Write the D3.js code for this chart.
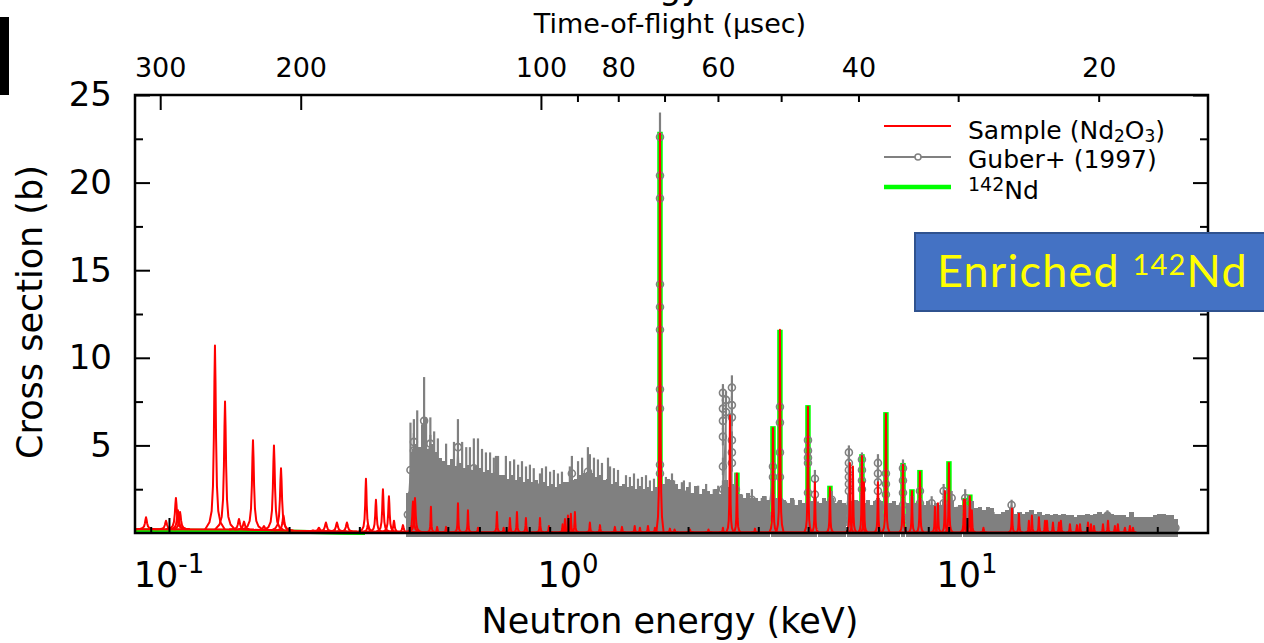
<!DOCTYPE html>
<html>
<head>
<meta charset="utf-8">
<script src="https://cdn.jsdelivr.net/npm/d3@7"></script>
<style>
  body { margin: 0; background: white; }
  svg { display: block; font-family: "DejaVu Sans", sans-serif; }
</style>
</head>
<body>
<div id="chart"></div>
<script>
// ---- values (energies in keV, cross sections in b) ----

// Sample (Nd2O3): smooth background and resonance peaks
var sampleBaseE  = [0.0822, 0.15, 0.2, 0.28, 0.4, 26.5];
var sampleBaseXS = [0.22, 0.2, 0.13, 0.08, 0.05, 0.03];
var samplePeakE  = [0.0876, 0.0983, 0.1041, 0.1053, 0.1066, 0.1304, 0.1382, 0.1498, 0.1542, 0.1624,
                    0.1730, 0.1833, 0.1909, 0.1936, 0.2296, 0.2376, 0.2474, 0.2636, 0.2793, 0.3117,
                    0.3153, 0.3302, 0.3438, 0.3559, 0.3664, 0.3859, 0.4089, 0.4136, 0.4535, 0.470,
                    0.495, 0.5301, 0.5615, 0.595, 0.6638, 0.690, 0.7155, 0.7451, 0.7846, 0.851,
                    0.896, 0.970, 0.983, 1.000, 1.017, 1.041, 1.135, 1.203, 1.311, 1.366,
                    1.47, 1.515, 1.587, 1.652, 1.701, 1.801, 1.85, 2.022, 2.25, 2.446,
                    2.547, 2.652, 2.943, 3.265, 3.399, 3.996, 4.159, 4.536, 5.090, 5.179,
                    5.456, 5.519, 5.984, 6.266, 6.914, 7.282, 7.625, 8.315, 8.460, 8.809,
                    9.014, 9.829, 9.886, 10.17, 10.29, 11.0, 12.97, 13.50, 14.30, 14.55,
                    15.15, 15.69, 15.87, 16.43, 17.01, 17.20, 18.12, 18.87, 19.20, 20.11,
                    20.46, 20.82, 21.93, 22.57, 23.49, 23.89, 24.89, 25.62, 26.07];
var samplePeakXS = [0.9, 0.7, 2.0, 1.3, 1.2, 10.7, 7.5, 0.8, 0.65, 5.3,
                    0.4, 5.0, 3.7, 1.0, 0.15, 0.3, 0.6, 0.6, 0.6, 3.1,
                    0.5, 1.9, 2.5, 2.1, 0.7, 0.45, 1.8, 2.0, 1.5, 0.35,
                    0.35, 1.7, 1.3, 0.3, 1.2, 0.3, 0.85, 1.2, 0.85, 0.85,
                    0.4, 0.5, 0.8, 1.0, 1.1, 1.2, 0.6, 0.45, 0.35, 0.35,
                    0.4, 0.3, 0.4, 0.3, 22.8, 0.25, 0.2, 0.2, 0.2, 0.3,
                    6.7, 3.4, 0.25, 6.0, 11.6, 7.2, 2.9, 2.6, 4.0, 3.8,
                    4.4, 2.9, 2.9, 6.8, 3.9, 2.4, 3.5, 1.5, 1.7, 2.4,
                    4.0, 1.9, 1.9, 2.1, 1.3, 0.3, 1.4, 1.1, 0.7, 1.0,
                    0.9, 0.7, 0.7, 0.6, 0.6, 0.7, 0.5, 0.45, 0.5, 0.6,
                    0.5, 0.4, 0.5, 0.7, 0.4, 0.5, 0.3, 0.4, 0.3];

// 142Nd evaluation: smooth part and resonances
var nd142BaseE  = [0.0822, 0.15, 0.2, 0.27, 0.31];
var nd142BaseXS = [0.15, 0.12, 0.08, 0.02, 0.0];
var nd142PeakE  = [1.701, 2.652, 3.265, 3.399, 3.996, 4.536, 5.456, 6.266, 6.914, 7.282, 7.625, 9.014, 9.886, 10.17, 19.3];
var nd142PeakXS = [22.9, 3.45, 6.1, 11.6, 7.3, 2.7, 4.5, 6.9, 4.0, 2.5, 3.6, 4.1, 2.0, 2.2, 0.9];

// Guber+ (1997): [energy, cross section, error]
var guberData = [
  // 0.40 - 0.48 keV
  [0.397,1.05,1.25],[0.403,3.6,2.7],[0.406,2.2,2.4],[0.411,5.2,1.3],[0.411,4.7,1.0],[0.411,2.3,2.5],
  [0.416,2.45,2.65],[0.419,4.5,2.5],[0.426,2.35,2.55],[0.431,4.4,1.8],[0.436,6.4,2.5],[0.436,2.4,2.6],
  [0.441,4.4,2.2],[0.446,2.3,2.5],[0.452,5.1,1.5],[0.452,4.6,1.0],[0.456,2.45,2.65],[0.462,4.2,1.6],
  [0.467,2.2,2.4],[0.472,4.0,1.4],[0.478,2.05,2.25],
  // 0.49 - 0.68 keV
  [0.489,1.95,2.15],[0.495,3.5,1.6],[0.500,1.85,2.05],[0.512,2.0,2.2],[0.518,3.5,1.7],[0.524,1.8,2.0],
  [0.530,4.9,1.6],[0.536,1.9,2.1],[0.543,3.4,1.8],[0.549,1.75,1.95],[0.556,3.4,1.5],[0.562,1.85,2.05],
  [0.568,3.3,1.6],[0.575,1.7,1.9],[0.581,3.7,1.7],[0.588,1.8,2.0],[0.595,3.2,2.2],[0.602,1.75,1.95],
  [0.609,3.2,1.6],[0.616,1.65,1.85],[0.623,3.1,1.5],[0.630,1.7,1.9],[0.638,3.0,1.6],[0.645,1.6,1.8],
  [0.652,2.9,1.4],[0.660,3.1,1.3],[0.660,1.65,1.85],[0.668,2.9,1.5],[0.675,1.55,1.75],
  // 0.69 - 0.98 keV
  [0.691,1.55,1.75],[0.699,2.8,1.6],[0.707,1.45,1.65],[0.716,2.7,1.4],[0.724,1.55,1.75],[0.733,2.7,1.5],
  [0.741,1.4,1.6],[0.750,2.6,1.3],[0.758,1.5,1.7],[0.767,2.6,1.5],[0.776,1.35,1.55],[0.785,2.5,1.3],
  [0.794,1.45,1.65],[0.803,2.5,1.4],[0.812,1.35,1.55],[0.821,2.4,1.3],[0.831,1.4,1.6],[0.851,2.6,0.8],
  [0.851,1.3,1.5],[0.861,2.4,1.3],[0.871,1.35,1.55],[0.881,2.4,1.4],[0.891,1.25,1.45],[0.902,2.3,1.2],
  [0.912,1.3,1.5],[0.922,2.3,1.3],[0.933,1.2,1.4],[0.944,2.2,1.2],[0.955,1.3,1.5],[0.966,2.2,1.3],
  [0.977,1.35,1.55],
  // 1.0 - 1.35 keV
  [1.000,1.35,1.55],[1.011,2.5,1.3],[1.023,3.4,1.0],[1.023,1.4,1.6],[1.047,1.45,1.65],[1.060,2.6,1.5],
  [1.072,1.55,1.75],[1.085,2.8,1.5],[1.097,1.6,1.8],[1.122,3.5,1.4],[1.122,1.65,1.85],[1.135,2.9,1.6],
  [1.149,1.6,1.8],[1.162,2.8,1.5],[1.175,1.5,1.7],[1.189,2.7,1.5],[1.203,1.55,1.75],[1.217,2.6,1.4],
  [1.231,1.4,1.6],[1.260,2.6,1.7],[1.260,1.45,1.65],[1.275,2.4,1.4],[1.289,1.3,1.5],[1.304,2.4,1.3],
  [1.319,1.35,1.55],[1.335,2.3,1.3],[1.350,1.25,1.45],
  // 1.38 - 1.66 keV
  [1.382,1.3,1.5],[1.398,2.1,1.2],[1.414,1.2,1.4],[1.430,2.1,1.1],[1.447,1.25,1.45],[1.464,2.1,1.3],
  [1.481,1.15,1.35],[1.498,2.0,1.1],[1.515,1.25,1.45],[1.533,2.0,1.2],[1.551,1.15,1.35],[1.569,2.0,1.3],
  [1.587,1.2,1.4],[1.605,1.9,1.1],[1.624,1.1,1.3],[1.643,1.9,1.2],[1.662,1.2,1.4],
  // 1.70 keV resonance
  [1.701,3.4,0.5],[1.701,3.9,0.5],[1.701,7.1,0.6],[1.701,8.2,0.6],[1.701,11.6,0.6],[1.701,12.9,0.8],
  [1.701,14.2,0.8],[1.701,19.1,1.0],[1.701,20.4,1.0],[1.701,22.6,1.4],[1.701,1.4,1.6],
  // 1.74 - 2.40 keV
  [1.740,1.3,1.5],[1.760,1.9,1.3],[1.781,1.45,1.65],[1.823,2.6,0.8],[1.823,1.4,1.6],[1.845,1.8,1.2],
  [1.865,1.3,1.5],[1.909,1.15,1.35],[1.930,1.7,1.2],[1.953,2.2,0.8],[1.953,1.1,1.3],[1.999,1.2,1.4],
  [2.020,1.7,1.2],[2.045,1.05,1.25],[2.093,1.25,1.45],[2.120,1.6,1.1],[2.142,1.0,1.2],[2.192,1.15,1.35],
  [2.220,1.6,1.2],[2.243,1.1,1.3],[2.295,1.0,1.2],[2.320,1.5,1.0],[2.349,1.15,1.35],[2.380,1.6,1.1],
  [2.404,1.0,1.2],
  // 2.45 - 2.64 keV resonance cluster
  [2.446,2.5,0.5],[2.446,3.8,0.5],[2.446,5.5,0.5],[2.446,6.4,0.5],[2.446,7.1,0.5],[2.446,8.0,0.5],[2.446,1.2,1.4],
  [2.489,6.9,0.4],[2.489,7.6,0.5],[2.489,1.4,1.6],[2.530,1.2,1.4],
  [2.576,4.0,0.5],[2.576,4.6,0.5],[2.576,5.3,0.5],[2.576,6.6,0.5],[2.576,7.3,0.5],[2.576,8.3,0.7],[2.576,1.3,1.5],
  [2.636,2.5,0.9],[2.636,1.2,1.4],
  // 2.7 - 10 keV
  [2.698,1.0,1.2],[2.730,1.3,0.9],[2.760,0.9,1.1],[2.825,1.05,1.25],[2.860,1.2,0.8],[2.891,1.9,0.6],
  [2.891,0.9,1.1],[2.958,0.9,1.1],[3.027,0.8,1.0],[3.060,1.2,0.8],[3.098,0.95,1.15],[3.130,1.2,0.9],
  [3.170,0.85,1.05],[3.265,3.2,0.5],[3.265,3.8,0.5],[3.265,1.0,1.2],[3.320,0.9,1.1],
  [3.399,1.8,0.5],[3.399,3.2,0.5],[3.399,4.6,0.5],[3.399,6.3,0.5],[3.399,7.2,0.5],[3.399,0.9,1.1],
  [3.476,0.85,1.05],[3.520,1.1,0.7],[3.557,0.75,0.95],[3.640,0.9,1.1],[3.680,1.1,0.8],[3.725,0.7,0.9],
  [3.812,0.85,1.05],[3.860,1.0,0.7],[3.901,0.75,0.95],
  [3.996,2.3,0.5],[3.996,4.0,0.4],[3.996,4.3,0.4],[3.996,4.7,0.4],[3.996,5.3,0.5],[3.996,0.9,1.1],
  [4.085,0.8,1.0],[4.159,2.2,0.4],[4.159,3.1,0.5],[4.159,0.9,1.1],[4.230,1.0,0.8],[4.278,0.75,0.95],
  [4.377,0.9,1.1],[4.430,1.0,0.7],[4.480,0.8,1.0],[4.584,1.9,0.5],[4.584,0.9,1.1],[4.691,0.75,0.95],
  [4.750,1.0,0.8],[4.800,0.85,1.05],[4.912,0.75,0.95],[4.970,1.0,0.6],
  [5.060,2.4,0.4],[5.060,2.8,0.4],[5.060,3.2,0.4],[5.060,3.6,0.4],[5.060,4.0,0.4],[5.060,4.6,0.4],[5.060,1.0,1.2],
  [5.144,0.8,1.0],[5.200,1.0,0.7],[5.264,0.85,1.05],[5.360,0.8,1.0],
  [5.456,2.5,0.4],[5.456,3.0,0.4],[5.456,3.6,0.4],[5.456,4.2,0.4],[5.456,1.0,1.2],
  [5.560,0.75,0.95],[5.641,0.85,1.05],[5.700,1.0,0.6],[5.773,0.7,0.9],[5.880,0.8,1.0],
  [5.984,1.7,0.4],[5.984,2.4,0.4],[5.984,2.9,0.4],[5.984,3.4,0.4],[5.984,4.0,0.5],[5.984,0.9,1.1],
  [6.050,1.0,0.6],[6.100,0.8,1.0],[6.266,2.2,0.4],[6.266,2.8,0.4],[6.266,3.4,0.5],[6.266,0.9,1.1],
  [6.400,0.75,0.95],[6.470,1.0,0.7],[6.550,0.8,1.0],[6.700,0.7,0.9],[6.800,0.9,0.6],
  [6.914,1.6,0.4],[6.914,2.3,0.4],[6.914,3.0,0.4],[6.914,3.7,0.5],[6.914,0.9,1.1],
  [7.104,0.75,0.95],[7.200,1.0,0.7],[7.282,0.95,1.15],[7.440,0.75,0.95],[7.520,0.9,0.6],
  [7.625,1.7,0.4],[7.625,2.4,0.5],[7.625,0.9,1.1],[7.791,0.7,0.9],[7.973,0.8,1.0],[8.050,0.9,0.7],
  [8.159,1.7,0.4],[8.159,0.7,0.9],[8.349,0.75,0.95],[8.450,0.9,0.6],[8.544,0.7,0.9],
  [8.743,1.7,0.4],[8.743,2.4,0.4],[8.743,0.8,1.0],[8.850,0.9,0.7],[8.947,0.7,0.9],[9.156,2.0,0.4],
  [9.156,0.8,1.0],[9.369,0.65,0.85],[9.470,0.9,0.6],[9.588,0.7,0.9],[9.900,1.4,0.4],[9.900,2.0,0.5],
  [9.900,0.7,0.9],
  // 10 - 33 keV
  [10.04,0.65,0.85],[10.15,0.8,0.6],[10.27,0.8,1.0],[10.51,0.6,0.8],[10.63,0.8,0.5],[10.76,0.65,0.85],
  [11.01,0.55,0.75],[11.14,0.7,0.5],[11.27,0.65,0.85],[11.53,0.6,0.8],[11.66,0.7,0.5],[11.80,0.45,0.65],
  [12.07,0.45,0.65],[12.35,0.5,0.7],[12.64,0.55,0.75],[12.94,1.6,0.3],[12.94,0.6,0.8],[13.24,0.45,0.65],
  [13.55,0.5,0.7],[13.86,0.45,0.65],[14.19,0.5,0.7],[14.52,0.55,0.75],[14.86,0.45,0.65],[15.20,0.5,0.7],
  [15.56,0.4,0.6],[15.92,0.45,0.65],[16.29,0.4,0.6],[16.67,0.45,0.65],[17.06,0.4,0.6],[17.46,0.45,0.65],
  [17.87,0.4,0.6],[18.28,0.4,0.6],[18.71,0.35,0.55],[19.15,0.4,0.6],[19.59,0.4,0.6],[20.05,0.45,0.65],
  [20.52,0.4,0.6],[21.00,0.45,0.65],[21.49,0.5,0.7],[21.99,0.45,0.65],[22.50,1.0,0.3],[22.50,0.5,0.7],
  [23.03,0.45,0.65],[23.56,0.4,0.6],[24.11,0.4,0.6],[24.68,0.4,0.6],[25.25,0.35,0.55],[25.84,0.5,0.7],
  [26.45,0.35,0.55],[27.06,0.35,0.55],[27.70,0.35,0.55],[28.34,0.35,0.55],[29.00,0.35,0.55],[29.68,0.4,0.6],
  [30.38,0.45,0.65],[31.08,0.45,0.65],[31.81,0.4,0.6],[32.55,0.4,0.6],[33.31,0.3,0.5]
];

// axes
var energyRange   = [0.0822, 40.2];
var energyMajor   = [0.1, 1, 10];
var energyLabels  = ["-1", "0", "1"];
var energyMinor   = [0.09, 0.2, 0.3, 0.4, 0.5, 0.6, 0.7, 0.8, 0.9, 2, 3, 4, 5, 6, 7, 8, 9, 20, 30];
var xsMajor       = [5, 10, 15, 20, 25];
var xsMinor       = [2.5, 7.5, 12.5, 17.5, 22.5];
var tofConst      = 92.5;   // usec * sqrt(keV), flight path conversion
var tofMajor      = [300, 200, 100];
var tofMinor      = [90, 80, 70, 60, 50, 40, 30, 20];
var tofMinorLabel = [80, 60, 40, 20];

// ---- drawing ----
var W = 1264, H = 643;
var plot = {left: 135, right: 1208, top: 95, bottom: 533};

var svg = d3.select("#chart").append("svg")
    .attr("width", W)
    .attr("height", H)
    .style("background-color", "white");

var x = d3.scaleLog().domain(energyRange).range([plot.left, plot.right]);
var y = d3.scaleLinear().domain([0, 25]).range([plot.bottom, plot.top]);
var xt = d3.scaleLog()
    .domain([tofConst / Math.sqrt(energyRange[0]), tofConst / Math.sqrt(energyRange[1])])
    .range([plot.left, plot.right]);

svg.append("clipPath").attr("id", "clip")
  .append("rect")
    .attr("x", plot.left).attr("y", plot.top)
    .attr("width", plot.right - plot.left).attr("height", plot.bottom - plot.top + 6);

var data = svg.append("g").attr("clip-path", "url(#clip)");
var line = d3.line().x(function(d) { return x(d[0]); }).y(function(d) { return y(d[1]); });

// 142Nd (green, drawn first)
data.append("path")
    .datum(d3.zip(nd142BaseE, nd142BaseXS))
    .attr("d", line)
    .attr("fill", "none")
    .attr("stroke", "#00ff00")
    .attr("stroke-width", 4);
data.selectAll(".ndpk")
  .data(d3.zip(nd142PeakE, nd142PeakXS))
  .join("line")
    .attr("class", "ndpk")
    .attr("x1", function(d) { return x(d[0]); })
    .attr("x2", function(d) { return x(d[0]); })
    .attr("y1", y(0))
    .attr("y2", function(d) { return y(d[1]); })
    .attr("stroke", "#00ff00")
    .attr("stroke-width", 5.5);

// Guber+ (gray) : error bars, connecting line, open circles
var gray = "#808080";
var guberSorted = guberData.slice().sort(function(a, b) { return a[0] - b[0]; });
data.selectAll(".gbar")
  .data(guberSorted)
  .join("line")
    .attr("class", "gbar")
    .attr("x1", function(d) { return x(d[0]); })
    .attr("x2", function(d) { return x(d[0]); })
    .attr("y1", function(d) { return y(d[1] - d[2]); })
    .attr("y2", function(d) { return y(d[1] + d[2]); })
    .attr("stroke", gray)
    .attr("stroke-width", function(d) { return d[1] - d[2] < 0 ? 4.2 : 2.2; })
    .attr("shape-rendering", function(d) { return d[1] - d[2] < 0 ? "crispEdges" : null; });
data.append("path")
    .datum(guberSorted)
    .attr("d", line)
    .attr("fill", "none")
    .attr("stroke", gray)
    .attr("stroke-width", 1.5);
data.selectAll(".gdot")
  .data(guberSorted)
  .join("circle")
    .attr("class", "gdot")
    .attr("cx", function(d) { return x(d[0]); })
    .attr("cy", function(d) { return y(d[1]); })
    .attr("r", 3.5)
    .attr("fill", "none")
    .attr("stroke", gray)
    .attr("stroke-width", 1.6);

// Sample (red): background + peak shapes
var red = "#ff0000";
var redBase = d3.scaleLog().domain(sampleBaseE).range(sampleBaseXS);
data.append("path")
    .datum(d3.zip(sampleBaseE, sampleBaseXS))
    .attr("d", line)
    .attr("fill", "none")
    .attr("stroke", red)
    .attr("stroke-width", 2);

var shape = [-9, -5, -3, -1.8, -1, -0.5, 0, 0.5, 1, 1.8, 3, 5, 9];
function peakPath(d) {
  var e = d[0], h = d[1];
  var g = e < 0.3 ? 1.1 : (e < 0.45 ? 0.8 : 0.4);
  var px = x(e), b = redBase(e);
  return d3.line()(shape.map(function(s, i) {
    var f = (i === 0 || i === shape.length - 1) ? 0 : 1 / (1 + s * s);
    return [px + s * g, y(b + (h - b) * f)];
  }));
}
data.selectAll(".rpk")
  .data(d3.zip(samplePeakE, samplePeakXS))
  .join("path")
    .attr("class", "rpk")
    .attr("d", peakPath)
    .attr("fill", "none")
    .attr("stroke", red)
    .attr("stroke-width", 2)
    .attr("stroke-linejoin", "round");

// ---- axes (ticks point inward) ----
function styleAxis(g) {
  g.select(".domain").remove();
  g.selectAll(".tick line").attr("stroke", "black").attr("stroke-width", 2);
  g.selectAll("text").attr("fill", "black").style("font-family", "DejaVu Sans");
}

svg.append("g").attr("transform", "translate(" + plot.left + ",0)")
    .call(d3.axisLeft(y).tickValues(xsMajor).tickSize(-15).tickPadding(23))
    .call(styleAxis)
    .selectAll("text").style("font-size", "34px");
svg.append("g").attr("transform", "translate(" + plot.left + ",0)")
    .call(d3.axisLeft(y).tickValues(xsMinor).tickSize(-8).tickFormat(""))
    .call(styleAxis);
svg.append("g").attr("transform", "translate(" + plot.right + ",0)")
    .call(d3.axisRight(y).tickValues(xsMajor).tickSize(-15).tickFormat(""))
    .call(styleAxis);
svg.append("g").attr("transform", "translate(" + plot.right + ",0)")
    .call(d3.axisRight(y).tickValues(xsMinor).tickSize(-8).tickFormat(""))
    .call(styleAxis);

svg.append("g").attr("transform", "translate(0," + plot.bottom + ")")
    .call(d3.axisBottom(x).tickValues(energyMajor).tickSize(-15).tickFormat(""))
    .call(styleAxis);
svg.append("g").attr("transform", "translate(0," + plot.bottom + ")")
    .call(d3.axisBottom(x).tickValues(energyMinor).tickSize(-6).tickFormat(""))
    .call(styleAxis);

var xl = svg.append("g").selectAll("text")
  .data(d3.zip(energyMajor, energyLabels))
  .join("text")
    .attr("x", function(d) { return x(d[0]); })
    .attr("y", 587)
    .attr("text-anchor", "middle")
    .style("font-size", "35px");
xl.append("tspan").text("10");
xl.append("tspan").attr("dy", -14).style("font-size", "26px").text(function(d) { return d[1]; });

svg.append("g").attr("transform", "translate(0," + plot.top + ")")
    .call(d3.axisTop(xt).tickValues(tofMajor).tickSize(-15).tickPadding(18))
    .call(styleAxis)
    .selectAll("text").style("font-size", "27px");
svg.append("g").attr("transform", "translate(0," + plot.top + ")")
    .call(d3.axisTop(xt).tickValues(tofMinor).tickSize(-7).tickPadding(18)
      .tickFormat(function(t) { return tofMinorLabel.indexOf(t) >= 0 ? t : ""; }))
    .call(styleAxis)
    .selectAll("text").style("font-size", "27px");

// frame
svg.append("rect")
    .attr("x", plot.left).attr("y", plot.top)
    .attr("width", plot.right - plot.left).attr("height", plot.bottom - plot.top)
    .attr("fill", "none").attr("stroke", "black").attr("stroke-width", 2.5);

// titles
svg.append("text")
    .attr("x", 670).attr("y", 633)
    .attr("text-anchor", "middle")
    .style("font-size", "35px")
    .text("Neutron energy (keV)");
svg.append("text")
    .attr("transform", "translate(42,312) rotate(-90)")
    .attr("text-anchor", "middle")
    .style("font-size", "35px")
    .text("Cross section (b)");
svg.append("text")
    .attr("x", 670).attr("y", 33)
    .attr("text-anchor", "middle")
    .style("font-size", "27px")
    .text("Time-of-flight (\u00b5sec)");
// slide title, cropped by the top edge (only descenders show)
svg.append("text")
    .attr("x", 702).attr("y", -1.5)
    .attr("text-anchor", "end")
    .style("font-size", "35px")
    .text("Neutron energy");

// cropped slide element at top left
svg.append("rect").attr("x", 0).attr("y", 17).attr("width", 9).attr("height", 78).attr("fill", "black");

// legend
var lg = svg.append("g");
lg.append("line").attr("x1", 884).attr("x2", 951).attr("y1", 126).attr("y2", 126)
    .attr("stroke", red).attr("stroke-width", 2);
lg.append("line").attr("x1", 884).attr("x2", 951).attr("y1", 157).attr("y2", 157)
    .attr("stroke", gray).attr("stroke-width", 2);
lg.append("circle").attr("cx", 918).attr("cy", 157).attr("r", 3)
    .attr("fill", "white").attr("stroke", gray).attr("stroke-width", 1.5);
lg.append("line").attr("x1", 884).attr("x2", 951).attr("y1", 187).attr("y2", 187)
    .attr("stroke", "#00ff00").attr("stroke-width", 4.5);

var t1 = lg.append("text").attr("x", 968).attr("y", 139).style("font-size", "25px");
t1.append("tspan").text("Sample (Nd");
t1.append("tspan").attr("dy", 3).style("font-size", "17px").text("2");
t1.append("tspan").attr("dy", -3).text("O");
t1.append("tspan").attr("dy", 3).style("font-size", "17px").text("3");
t1.append("tspan").attr("dy", -3).text(")");
lg.append("text").attr("x", 968).attr("y", 168).style("font-size", "25px").text("Guber+ (1997)");
var t3 = lg.append("text").attr("x", 968).attr("y", 199).style("font-size", "25px");
t3.append("tspan").attr("dy", -8).style("font-size", "19px").text("142");
t3.append("tspan").attr("dy", 8).text("Nd");

// "Enriched 142Nd" label box
svg.append("rect")
    .attr("x", 915).attr("y", 233).attr("width", 360).attr("height", 78)
    .attr("fill", "#4472c4").attr("stroke", "#2f528f").attr("stroke-width", 2);
var en = svg.append("text")
    .attr("x", 937).attr("y", 287)
    .attr("fill", "#ffff00")
    .style("font-family", "Lato, 'Open Sans', sans-serif")
    .style("font-size", "45px")
    .style("letter-spacing", "1.2px");
en.append("tspan").text("Enriched ");
en.append("tspan").attr("dy", -12).style("font-size", "29px").text("142");
en.append("tspan").attr("dy", 12).text("Nd");
</script>
</body>
</html>
